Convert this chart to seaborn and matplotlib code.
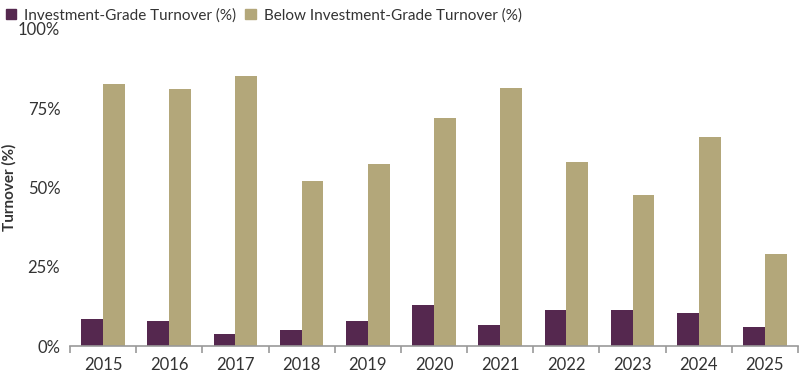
"""Investment-grade vs below investment-grade turnover by year."""
import matplotlib
matplotlib.use("Agg")
import matplotlib.pyplot as plt
import pandas as pd
import seaborn as sns
from matplotlib.ticker import FixedLocator, PercentFormatter

YEARS = ["2015", "2016", "2017", "2018", "2019", "2020",
         "2021", "2022", "2023", "2024", "2025"]
IG_TURNOVER = [8.4, 8.0, 3.7, 5.0, 7.8, 12.9, 6.6, 11.4, 11.3, 10.3, 5.9]
BELOW_IG_TURNOVER = [82.6, 81.1, 85.2, 52.0, 57.4, 71.9, 81.4, 57.9, 47.7, 65.9, 29.0]
SERIES = ["Investment-Grade Turnover (%)", "Below Investment-Grade Turnover (%)"]
COLORS = ["#55284f", "#b3a77a"]


def main():
    df = pd.DataFrame({
        "year": YEARS * 2,
        "turnover": IG_TURNOVER + BELOW_IG_TURNOVER,
        "series": [SERIES[0]] * len(YEARS) + [SERIES[1]] * len(YEARS),
    })

    sns.set_style("white")
    plt.rcParams["font.family"] = ["Lato", "DejaVu Sans"]

    fig = plt.figure(figsize=(8, 3.75), dpi=100)
    ax = fig.add_axes([0.0875, 0.0773, 0.91, 0.8454])
    sns.barplot(
        data=df, x="year", y="turnover", hue="series", order=YEARS,
        hue_order=SERIES, palette=COLORS, width=0.66, saturation=1,
        linewidth=0, ax=ax,
    )

    ax.set_ylim(0, 100)
    ax.set_xlim(-0.5, len(YEARS) - 0.5)
    ax.set_yticks([0, 25, 50, 75, 100])
    ax.yaxis.set_major_formatter(PercentFormatter(decimals=0))
    ax.set_xlabel("")
    ax.set_ylabel("Turnover (%)", fontsize=11, color="#333333",
                  fontweight="bold")
    ax.yaxis.set_label_coords(-0.073, 0.5)

    for side in ["left", "right", "top"]:
        ax.spines[side].set_visible(False)
    ax.spines["bottom"].set_color("#999999")
    ax.spines["bottom"].set_linewidth(1.2)

    ax.xaxis.set_minor_locator(FixedLocator([i - 0.5 for i in range(len(YEARS) + 1)]))
    ax.tick_params(axis="x", which="major", length=0, pad=8,
                   labelsize=12, labelcolor="#333333")
    ax.tick_params(axis="x", which="minor", bottom=True, length=5,
                   width=1.2, color="#999999")
    ax.tick_params(axis="y", length=0, pad=7, labelsize=12, labelcolor="#333333")

    ax.get_legend().remove()
    handles = [plt.Rectangle((0, 0), 1, 1, color=c) for c in COLORS]
    fig.legend(handles, SERIES, loc="upper left", bbox_to_anchor=(-0.01, 1.015),
               ncol=2, frameon=False, fontsize=11, handlelength=0.7,
               handleheight=0.7, handletextpad=0.5, columnspacing=0.6,
               labelcolor="#333333")

    fig.savefig("out.png", dpi=100)
    plt.close(fig)


if __name__ == "__main__":
    main()
